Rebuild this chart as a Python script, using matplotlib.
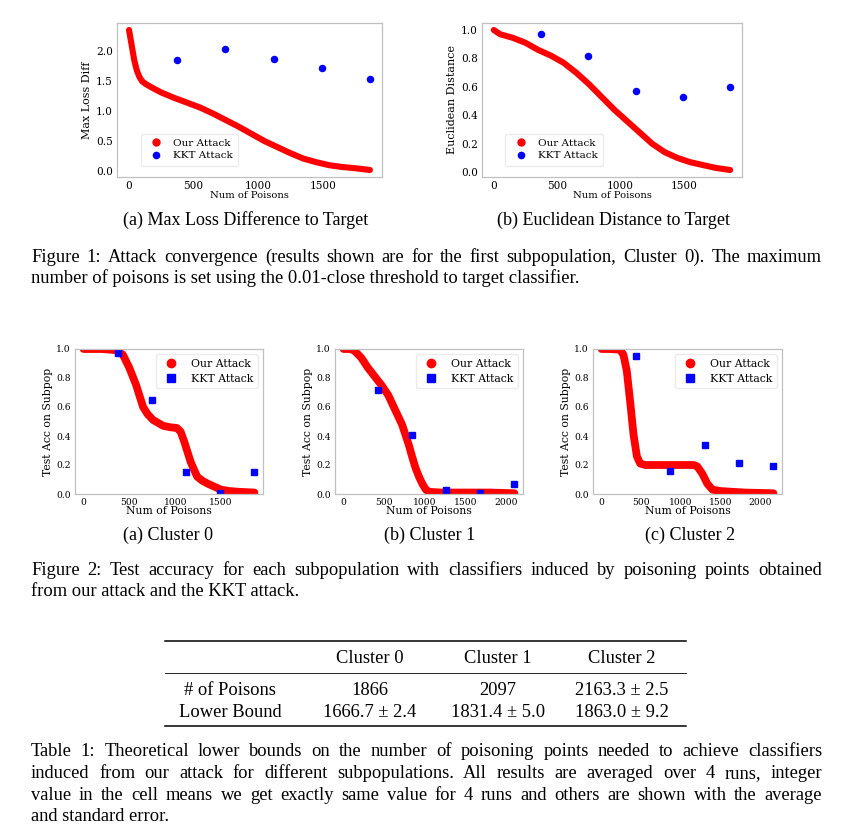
import numpy as np
import matplotlib
matplotlib.use("Agg")
import matplotlib.pyplot as plt
from matplotlib.lines import Line2D

W, H = 853, 835

# ---- Figure 1 data ----
loss_x = [0, 20, 40, 60, 80, 100, 130, 170, 250, 350, 450, 550, 650, 750, 850,
          950, 1050, 1150, 1250, 1350, 1450, 1550, 1650, 1750, 1866]
loss_y = [2.35, 2.10, 1.85, 1.68, 1.57, 1.50, 1.45, 1.40, 1.31, 1.22, 1.14, 1.06,
          0.96, 0.85, 0.74, 0.62, 0.50, 0.40, 0.30, 0.21, 0.15, 0.10, 0.07, 0.05, 0.02]
kkt1_x = [373, 746, 1119, 1492, 1866]
kkt_loss = [1.85, 2.03, 1.87, 1.71, 1.53]

dist_x = [0, 50, 150, 250, 350, 450, 550, 650, 750, 850, 950, 1050, 1150, 1250,
          1350, 1450, 1550, 1650, 1750, 1866]
dist_y = [1.0, 0.97, 0.945, 0.91, 0.86, 0.82, 0.77, 0.70, 0.62, 0.53, 0.44, 0.36,
          0.28, 0.20, 0.14, 0.10, 0.07, 0.05, 0.03, 0.015]
kkt_dist = [0.97, 0.82, 0.57, 0.53, 0.60]

# ---- Figure 2 data ----
c0_x = [0, 100, 200, 300, 370, 430, 500, 575, 650, 700, 760, 870, 950, 1020, 1060,
        1100, 1170, 1240, 1300, 1360, 1430, 1500, 1600, 1700, 1866]
c0_y = [1.0, 1.0, 1.0, 0.995, 0.99, 0.96, 0.87, 0.75, 0.60, 0.55, 0.51, 0.47, 0.46,
        0.455, 0.43, 0.36, 0.22, 0.12, 0.09, 0.07, 0.05, 0.03, 0.02, 0.015, 0.01]
c0_kx = [373, 746, 1119, 1492, 1866]
c0_ky = [0.97, 0.65, 0.15, 0.01, 0.155]

c1_x = [0, 80, 130, 217, 300, 383, 467, 550, 633, 717, 800, 840, 883, 925, 967,
        1010, 1050, 1200, 1500, 1800, 2097]
c1_y = [1.0, 1.0, 0.99, 0.94, 0.87, 0.81, 0.75, 0.68, 0.58, 0.48, 0.34, 0.26, 0.18,
        0.12, 0.07, 0.03, 0.015, 0.01, 0.01, 0.01, 0.005]
c1_kx = [419, 839, 1258, 1678, 2097]
c1_ky = [0.72, 0.41, 0.025, 0.01, 0.07]

c2_x = [0, 100, 233, 275, 317, 359, 402, 444, 486, 550, 800, 1000, 1163, 1205,
        1268, 1332, 1395, 1500, 1800, 2163]
c2_y = [1.0, 1.0, 0.995, 0.96, 0.85, 0.64, 0.41, 0.26, 0.21, 0.20, 0.20, 0.20, 0.20,
        0.19, 0.14, 0.07, 0.03, 0.02, 0.01, 0.005]
c2_kx = [433, 865, 1298, 1730, 2163]
c2_ky = [0.955, 0.16, 0.34, 0.215, 0.19]

# ---- table ----
col_names = ["Cluster 0", "Cluster 1", "Cluster 2"]
row_names = ["# of Poisons", "Lower Bound"]
cells = [["1866", "2097", "2163.3 \u00b1 2.5"],
         ["1666.7 \u00b1 2.4", "1831.4 \u00b1 5.0", "1863.0 \u00b1 9.2"]]

SERIF = "DejaVu Serif"
TIMES = "Liberation Serif"
RED = "#ff0000"
BLUE = "#0000ff"

fig = plt.figure(figsize=(W / 100, H / 100), dpi=100)


def ax_px(l, t, r, b):
    return fig.add_axes([l / W, 1 - b / H, (r - l) / W, (b - t) / H])


def style(ax, tick_fs):
    for s in ax.spines.values():
        s.set_color("#c0c0c0")
        s.set_linewidth(0.9)
    ax.tick_params(length=0, pad=3, labelsize=tick_fs)
    for lab in ax.get_xticklabels() + ax.get_yticklabels():
        lab.set_family(SERIF)


def handles(red_ms, blue_marker, blue_ms):
    return [Line2D([], [], color=RED, marker="o", ls="none", ms=red_ms),
            Line2D([], [], color=BLUE, marker=blue_marker, ls="none", ms=blue_ms)]


# Figure 1 panels
for (l, r), xs, ys, ky, ylab, yticks in [
        ((117, 382), loss_x, loss_y, kkt_loss, "Max Loss Diff", [0, 0.5, 1.0, 1.5, 2.0]),
        ((482, 742), dist_x, dist_y, kkt_dist, "Euclidean Distance", [0, 0.2, 0.4, 0.6, 0.8, 1.0])]:
    ax = ax_px(l, 23, r, 177)
    ax.plot(xs, ys, color=RED, lw=4.4, solid_capstyle="round", solid_joinstyle="round")
    ax.plot(kkt1_x, ky, "o", color=BLUE, ms=4.4)
    ax.set_xticks([0, 500, 1000, 1500])
    ax.set_yticks(yticks)
    ax.yaxis.set_major_formatter(matplotlib.ticker.FormatStrFormatter("%.1f"))
    style(ax, 7.6)
    ax.set_xlabel("Num of Poisons", family=SERIF, fontsize=7.2, labelpad=0)
    ax.set_ylabel(ylab, family=SERIF, fontsize=8.0, labelpad=3)
    ax.legend(handles(5, "o", 4.5), ["Our Attack", "KKT Attack"], loc="lower left",
              prop={"family": SERIF, "size": 7.5}, bbox_to_anchor=(0.07, 0.04),
              handletextpad=0.6, borderpad=0.5, labelspacing=0.3, edgecolor="#e6e6e6")

# Figure 2 panels
for (l, r), xs, ys, kx, ky, xt in [
        ((75, 263), c0_x, c0_y, c0_kx, c0_ky, [0, 500, 1000, 1500]),
        ((335, 523), c1_x, c1_y, c1_kx, c1_ky, [0, 500, 1000, 1500, 2000]),
        ((593, 782), c2_x, c2_y, c2_kx, c2_ky, [0, 500, 1000, 1500, 2000])]:
    ax = ax_px(l, 349, r, 494)
    ax.plot(xs, ys, color=RED, lw=5.6, solid_capstyle="round", solid_joinstyle="round")
    ax.plot(kx, ky, "s", color=BLUE, ms=4.8)
    ax.set_ylim(0, 1)
    ax.set_xticks(xt)
    ax.set_yticks([0, 0.2, 0.4, 0.6, 0.8, 1.0])
    ax.yaxis.set_major_formatter(matplotlib.ticker.FormatStrFormatter("%.1f"))
    style(ax, 6.6)
    ax.set_xlabel("Num of Poisons", family=SERIF, fontsize=7.8, labelpad=-1)
    ax.set_ylabel("Test Acc on Subpop", family=SERIF, fontsize=7.8, labelpad=2)
    ax.legend(handles(6, "s", 5.5), ["Our Attack", "KKT Attack"], loc="upper right",
              prop={"family": SERIF, "size": 7.8}, handletextpad=0.8, borderpad=0.4,
              labelspacing=0.5, edgecolor="#e6e6e6")

# ---- captions ----
FS = 13.3
renderer = fig.canvas.get_renderer()


def text_px(x, y, s, ha="left", size=FS):
    return fig.text(x / W, 1 - y / H, s, ha=ha, va="baseline", family=TIMES, fontsize=size)


def justified(y, s, x0=31, x1=822):
    words = s.split()
    objs = [text_px(0, y, w) for w in words]
    widths = [o.get_window_extent(renderer).width for o in objs]
    gap = (x1 - x0 - sum(widths)) / (len(words) - 1)
    x = x0
    for o, w in zip(objs, widths):
        o.set_x(x / W)
        x += w + gap


text_px(246, 225, "(a) Max Loss Difference to Target", ha="center", size=13)
text_px(614, 225, "(b) Euclidean Distance to Target", ha="center", size=13)
justified(262, "Figure 1: Attack convergence (results shown are for the first "
               "subpopulation, Cluster 0). The maximum")
text_px(31, 283, "number of poisons is set using the 0.01-close threshold to target classifier.")

text_px(168, 540, "(a) Cluster 0", ha="center", size=13)
text_px(430, 540, "(b) Cluster 1", ha="center", size=13)
text_px(690, 540, "(c) Cluster 2", ha="center", size=13)
justified(575, "Figure 2: Test accuracy for each subpopulation with classifiers "
               "induced by poisoning points obtained")
text_px(31, 596, "from our attack and the KKT attack.")

# ---- table ----
def hrule(y, lw):
    fig.add_artist(Line2D([165 / W, 686 / W], [1 - y / H, 1 - y / H], color="black", lw=lw))


hrule(641, 1.1)
hrule(673, 0.6)
hrule(726, 1.1)
col_x = [370, 498, 622]
for cx, name in zip(col_x, col_names):
    text_px(cx, 663, name, ha="center")
for ry, rname, row in zip([695, 717], row_names, cells):
    text_px(230, ry, rname, ha="center")
    for cx, val in zip(col_x, row):
        text_px(cx, ry, val, ha="center")

justified(756, "Table 1: Theoretical lower bounds on the number of poisoning points "
               "needed to achieve classifiers")
justified(778, "induced from our attack for different subpopulations. All results "
               "are averaged over 4 runs, integer")
justified(800, "value in the cell means we get exactly same value for 4 runs and "
               "others are shown with the average")
text_px(31, 821, "and standard error.")

fig.savefig("out.png", dpi=100)
